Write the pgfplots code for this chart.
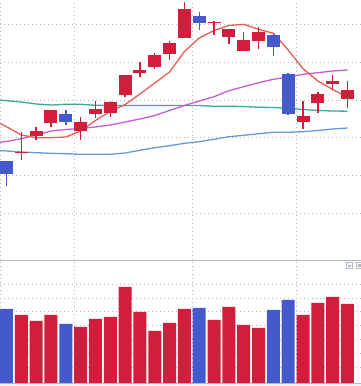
\documentclass[border=0pt]{standalone}
\usepackage{pgfplots}
\pgfplotsset{compat=1.18}
\usepackage{pgfplotstable}
\definecolor{upred}{RGB}{208,30,60}
\definecolor{dnblue}{RGB}{68,90,204}
\definecolor{maA}{RGB}{232,94,84}
\definecolor{maB}{RGB}{200,90,215}
\definecolor{maC}{RGB}{56,170,150}
\definecolor{maD}{RGB}{100,155,210}
\definecolor{gridc}{RGB}{180,184,194}
\definecolor{sepc}{RGB}{176,184,192}
\definecolor{bandc}{RGB}{238,241,245}

% candles: x open high low close
\pgfplotstableread{
x o h l c
1 10.70 12.80 10.03 10.83
2 12.43 13.33 12.03 12.90
3 13.73 15.03 13.33 15.00
5 12.93 14.30 12.03 13.80
6 14.63 15.90 14.20 15.10
7 14.73 15.90 14.33 15.80
8 16.50 18.50 16.30 18.50
9 18.73 19.80 18.33 19.00
10 19.33 20.70 19.13 20.50
11 20.63 21.90 20.03 21.70
12 22.23 25.80 22.23 25.10
14 23.70 23.90 22.53 23.80
15 22.33 23.10 21.63 23.10
16 20.93 22.80 20.93 22.00
17 21.93 23.30 21.13 22.80
20 13.83 15.93 13.13 14.40
21 15.73 16.80 14.73 16.60
22 17.63 18.53 17.03 17.93
23 16.13 17.93 15.23 17.00
}\up
\pgfplotstableread{
x o h l c
0 9.90 9.93 7.43 8.63
4 14.60 15.00 13.50 13.80
13 24.40 24.80 23.03 23.73
18 22.50 22.60 20.43 21.33
19 18.60 18.70 14.53 14.63
}\down
% moving averages
\pgfplotstableread{
x a b c d
-1 14.10 11.70 16.05 11.00
0 13.33 11.85 15.93 10.90
1 12.50 12.13 15.80 10.80
2 12.23 12.50 15.60 10.73
3 12.23 12.90 15.50 10.67
4 12.30 13.05 15.57 10.63
5 12.90 13.15 15.57 10.57
6 13.95 13.30 15.47 10.57
7 14.87 13.50 15.45 10.57
8 15.55 13.80 15.45 10.70
9 16.60 14.10 15.45 10.97
10 17.70 14.45 15.45 11.23
11 18.80 14.95 15.45 11.43
12 20.85 15.45 15.45 11.67
13 22.20 15.90 15.45 11.83
14 22.95 16.33 15.37 12.07
15 23.45 16.93 15.37 12.33
16 23.57 17.33 15.35 12.47
17 23.07 17.73 15.27 12.63
18 22.67 18.07 15.25 12.77
19 21.00 18.30 15.17 12.77
20 19.13 18.57 15.05 12.83
21 17.90 18.73 14.95 12.95
22 17.05 18.90 14.90 13.10
23 16.30 19.00 14.88 13.20
}\ma
% volume
\pgfplotstableread{
x v
1 68.3
2 62.3
3 68.3
5 56.3
6 64.3
7 66.3
8 96.3
9 71.3
10 52.3
11 60.3
12 74.3
14 63.3
15 76.3
16 58.3
17 55.3
20 68.3
21 80.3
22 86.3
23 79.3
}\volup
\pgfplotstableread{
x v
0 74.3
4 59.3
13 75.3
18 73.3
19 83.3
}\voldown

\pgfplotsset{
  panel/.style={
    scale only axis, width=361bp, anchor=south west,
    xmin=-0.4384, xmax=23.911,
    axis line style={draw=none}, tick style={draw=none},
    xticklabels={}, yticklabels={},
    xtick={-0.41,4.57,12.53,19.55},
    xmajorgrids, ymajorgrids,
    grid style={gridc, line width=1bp, dash pattern=on 1bp off 3bp},
  },
  wick/.style={draw=none, mark=none, forget plot,
    error bars/.cd, y dir=both, y explicit, error mark=none,
    error bar style={draw=#1, line width=1.4bp, line cap=butt}},
  body/.style={draw=none, mark=none, forget plot,
    error bars/.cd, y dir=both, y explicit, error mark=none,
    error bar style={draw=#1, line width=13bp, line cap=butt}},
}

\begin{document}
\begin{tikzpicture}
\useasboundingbox (0,0) rectangle (361bp,386bp);
\fill[white] (0,0) rectangle (361bp,386bp);
% upper panel
\begin{axis}[panel, at={(0,126bp)}, height=260bp, ymin=0, ymax=26,
  ytick={4.67,8.44,12.2,15.97,19.74,23.5}]
\addplot[maD, line width=1.3bp] table[x=x,y=d] {\ma};
\addplot[maC, line width=1.3bp] table[x=x,y=c] {\ma};
\addplot[maB, line width=1.3bp] table[x=x,y=b] {\ma};
\addplot[maA, line width=1.3bp] table[x=x,y=a] {\ma};
\addplot[wick=upred] table[x=x, y expr={(\thisrow{h}+\thisrow{l})/2}, y error expr={(\thisrow{h}-\thisrow{l})/2}] {\up};
\addplot[body=upred] table[x=x, y expr={(\thisrow{o}+\thisrow{c})/2}, y error expr={max(abs(\thisrow{c}-\thisrow{o})/2,0.05)}] {\up};
\addplot[wick=dnblue] table[x=x, y expr={(\thisrow{h}+\thisrow{l})/2}, y error expr={(\thisrow{h}-\thisrow{l})/2}] {\down};
\addplot[body=dnblue] table[x=x, y expr={(\thisrow{o}+\thisrow{c})/2}, y error expr={max(abs(\thisrow{c}-\thisrow{o})/2,0.05)}] {\down};
\end{axis}
% lower panel
\begin{axis}[panel, at={(0,2.7bp)}, height=123.3bp, ymin=0, ymax=123.3,
  ytick={16,29.8,43.7,57.5,71.3,85.2,99}]
\addplot[ybar, bar width=13bp, bar shift=0pt, fill=upred, draw=none] table[x=x,y=v] {\volup};
\addplot[ybar, bar width=13bp, bar shift=0pt, fill=dnblue, draw=none] table[x=x,y=v] {\voldown};
\end{axis}
% frame lines
\draw[sepc, line width=1.3bp] (0,125.5bp) -- (361bp,125.5bp);
\fill[bandc] (0,0) rectangle (361bp,2.2bp);
\draw[sepc, line width=1bp] (0,2.6bp) -- (361bp,2.6bp);
% small toolbox icons
\draw[sepc, line width=0.9bp] (346.5bp,117.5bp) rectangle (352.5bp,123.5bp);
\fill[sepc] (348.2bp,119.2bp) rectangle (350.8bp,121.3bp);
\draw[sepc, line width=0.9bp] (356.5bp,117.5bp) rectangle (363bp,123.5bp);
\fill[sepc] (358.2bp,119.2bp) rectangle (360.5bp,121.8bp);
\end{tikzpicture}
\end{document}
